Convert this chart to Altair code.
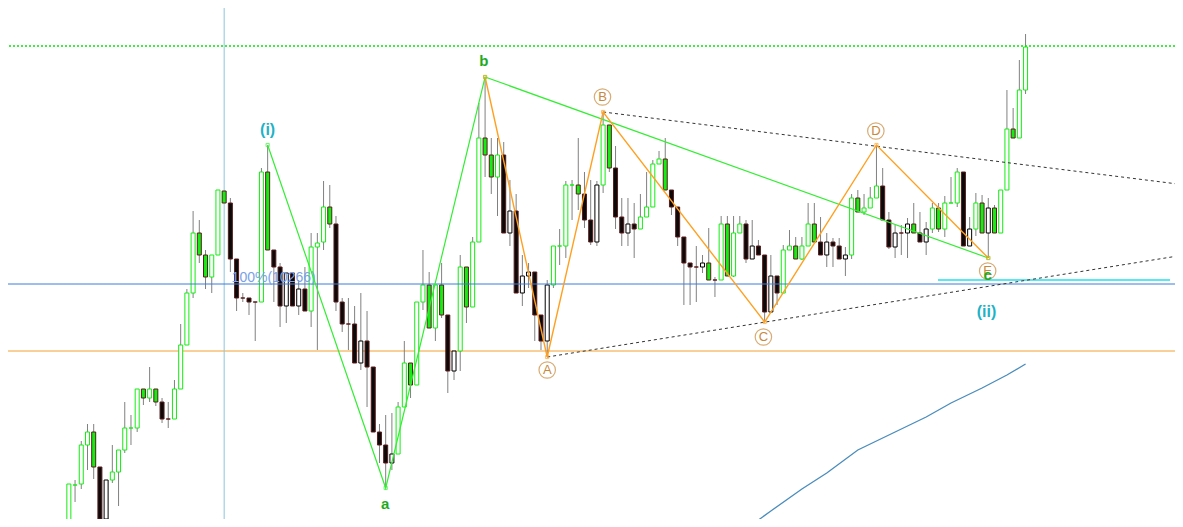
import altair as alt
import pandas as pd

# ---------------- candle data (price units) ----------------
opens = [10005,10065,10066,10105,10118,10083,10031,10070,10078,10100,
         10122,10122,10161,10152,10161,10148,10131,10131,10161,10205,
         10257,10317,10295,10273,10295,10359,10347,10291,10252,10252,
         10248,10248,10378,10300,10283,10244,10277,10244,10261,10239,
         10303,10308,10343,10326,10248,10226,10226,10187,10209,10183,
         10118,10105,10087,10096,10143,10187,10165,10248,10265,10222,
         10265,10235,10179,10199,10283,10243,10308,10412,10395,10373,
         10395,10317,10339,10257,10274,10278,10235,10209,10265,10304,
         10304,10365,10365,10356,10330,10308,10365,10425,10382,10333,
         10317,10326,10321,10333,10343,10386,10391,10360,10343,10313,
         10287,10283,10283,10287,10270,10270,10326,10274,10317,10326,
         10291,10304,10295,10238,10274,10257,10300,10304,10291,10304,
         10326,10308,10295,10308,10304,10291,10295,10352,10338,10342,
         10352,10364,10330,10303,10317,10317,10326,10317,10308,10321,
         10342,10321,10347,10347,10378,10304,10321,10347,10317,10342,
         10317,10360,10421,10412,10460]
closes = [10066,10065,10105,10118,10083,10031,10070,10078,10100,10122,
          10122,10161,10152,10161,10148,10131,10131,10161,10205,10257,
          10317,10295,10273,10295,10360,10347,10291,10252,10252,10248,
          10248,10378,10300,10283,10244,10277,10244,10261,10239,10303,
          10307,10343,10326,10248,10226,10226,10187,10209,10183,10118,
          10105,10087,10096,10143,10187,10165,10248,10265,10222,10265,
          10235,10179,10199,10283,10243,10308,10412,10395,10373,10395,
          10317,10339,10257,10274,10278,10235,10209,10265,10304,10304,
          10365,10365,10356,10330,10308,10365,10425,10382,10333,10317,
          10326,10321,10333,10343,10386,10391,10360,10343,10313,10287,
          10283,10283,10287,10270,10270,10326,10274,10317,10326,10291,
          10304,10295,10238,10274,10257,10300,10304,10291,10304,10326,
          10308,10295,10308,10304,10291,10295,10352,10338,10342,10352,
          10364,10330,10303,10317,10317,10326,10317,10308,10321,10342,
          10321,10347,10347,10378,10304,10321,10347,10317,10342,10317,
          10360,10421,10412,10460,10503]
highs = [10066,10070,10109,10126,10126,10083,10070,10105,10100,10148,
         10135,10161,10161,10183,10161,10152,10148,10170,10226,10261,
         10339,10330,10300,10295,10360,10359,10352,10291,10257,10252,
         10248,10382,10405,10300,10287,10277,10277,10270,10283,10317,
         10317,10369,10365,10334,10252,10252,10244,10257,10239,10183,
         10126,10135,10137,10148,10209,10187,10248,10300,10278,10265,
         10287,10235,10199,10295,10283,10313,10447,10473,10412,10412,
         10408,10370,10356,10295,10287,10278,10235,10270,10304,10321,
         10369,10370,10412,10378,10370,10369,10438,10425,10404,10352,
         10352,10347,10356,10378,10390,10399,10412,10360,10343,10313,
         10287,10304,10295,10322,10273,10334,10334,10334,10334,10330,
         10330,10310,10295,10295,10274,10305,10320,10313,10313,10347,
         10347,10333,10317,10312,10312,10303,10356,10360,10356,10363,
         10405,10382,10338,10325,10325,10332,10347,10338,10328,10347,
         10347,10354,10373,10382,10378,10333,10357,10355,10352,10345,
         10360,10460,10442,10490,10516]
lows = [10005,10048,10061,10080,10071,10031,10027,10067,10044,10097,
        10105,10118,10145,10148,10144,10127,10122,10131,10161,10205,
        10252,10287,10261,10257,10295,10347,10278,10239,10248,10235,
        10209,10248,10300,10248,10223,10227,10244,10235,10239,10223,
        10200,10300,10322,10239,10218,10200,10187,10180,10143,10118,
        10087,10062,10080,10096,10143,10152,10165,10240,10222,10209,
        10232,10157,10170,10179,10227,10243,10308,10373,10356,10334,
        10317,10304,10257,10244,10262,10209,10200,10193,10262,10285,
        10292,10330,10340,10322,10305,10304,10357,10378,10321,10304,
        10304,10292,10321,10333,10343,10386,10360,10335,10304,10245,
        10245,10248,10277,10270,10253,10270,10274,10273,10317,10287,
        10291,10295,10228,10238,10245,10257,10300,10291,10290,10304,
        10308,10295,10283,10283,10291,10274,10291,10338,10335,10342,
        10352,10330,10301,10292,10295,10292,10317,10308,10295,10317,
        10318,10313,10347,10343,10304,10304,10314,10317,10292,10317,
        10317,10360,10412,10412,10456]
styles = list("GGGGFBWGGG" "GGFGFBBGGG" "GFFGGFBBBB" "BGFBBWBWBG"
              "GGFBBBBWBB" "BBWGGFGGFG" "FBWGFGGFFG" "BWBWWBBWGG"
              "GGFBBWGFBB" "WBGGGGFBBB" "BBWFBGFGGB" "WBBWBGGFGG"
              "FBWBBWGFGG" "GBBWBWFBWG" "FGGGBWGFWF" "GGFGG")

# moving average (bottom-right curve)
ma_idx = [109, 113, 118, 122, 127, 133, 138, 142, 147, 151, 154]
ma_val = [10021, 10039, 10061, 10077, 10100, 10118, 10133, 10147, 10162, 10175, 10186]

# wave counts
green_idx = [32, 51, 67, 148]
green_val = [10405, 10062, 10473, 10292]
orange_idx = [67, 77, 86, 112, 130, 148]
orange_val = [10473, 10193, 10438, 10228, 10405, 10292]

# visible window
X_MIN, X_MAX = -8.99, 177.25
Y_MIN, Y_MAX = 10031, 10542

# trend lines (start point, right-edge point)
trend_name = ["upper", "upper", "lower", "lower"]
trend_idx = [86, 178.5, 77, 178.5]
trend_val = [10438, 10366, 10193, 10294]

# horizontal levels
level_green = 10504
level_blue = 10266
level_orange = 10199
level_cyan = 10270
cyan_start = 139.9
cross_idx = 25

# labels
circ_text = ["A", "B", "C", "D", "E"]
circ_idx = [77, 85.9, 111.8, 129.9, 147.9]
circ_val = [10180, 10453, 10213, 10419, 10279]
wave_text = ["a", "b", "c"]
wave_idx = [50.9, 66.8, 147.9]
wave_val = [10046, 10489, 10275]
deg_text = ["(i)", "(ii)"]
deg_idx = [32, 147.7]
deg_val = [10420, 10238]

# ---------------- build ----------------
n = len(opens)
candles = pd.DataFrame({"i": list(range(n)), "o": opens, "c": closes,
                        "h": highs, "l": lows, "s": styles})

xs = alt.Scale(domain=[X_MIN, X_MAX], nice=False, zero=False)
ys = alt.Scale(domain=[Y_MIN, Y_MAX], nice=False, zero=False)
X = lambda f: alt.X(f, type="quantitative", scale=xs, axis=None)
Y = lambda f: alt.Y(f, type="quantitative", scale=ys, axis=None)

wicks = alt.Chart(candles).mark_rule(color="#808080", strokeWidth=1, clip=True).encode(
    x=X("i"), y=Y("l"), y2="h")

sty_dom = ["G", "B", "F", "W"]
bodies = alt.Chart(candles).mark_bar(size=4, strokeWidth=1, clip=True).encode(
    x=X("i"), y=Y("o"), y2="c",
    fill=alt.Fill("s:N", scale=alt.Scale(domain=sty_dom,
                  range=["#ffffff", "#0a0a0a", "#11ee11", "#ffffff"]), legend=None),
    stroke=alt.Stroke("s:N", scale=alt.Scale(domain=sty_dom,
                  range=["#11ee11", "#5a1a1a", "#5a1a1a", "#000000"]), legend=None))

def hline(val, color, dash=None, w=1):
    kw = dict(color=color, strokeWidth=w)
    if dash:
        kw["strokeDash"] = dash
    return alt.Chart(pd.DataFrame({"v": [val]})).mark_rule(**kw).encode(y=Y("v"))

h_green = hline(level_green, "#00e600", [2, 2], 1.3)
h_blue = hline(level_blue, "#3c7ddc")
h_orange = hline(level_orange, "#f2a030")
h_cyan = alt.Chart(pd.DataFrame({"a": [cyan_start], "b": [X_MAX], "v": [level_cyan]})).mark_rule(
    color="#22e0ee", strokeWidth=1.5).encode(x=X("a"), x2="b", y=Y("v"))
v_cross = alt.Chart(pd.DataFrame({"x": [cross_idx]})).mark_rule(
    color="#8cc4e0", strokeWidth=1).encode(x=X("x"))

pct_label = alt.Chart(pd.DataFrame({"x": [26.2], "v": [10268], "t": ["100%(10266)"]})).mark_text(
    align="left", baseline="alphabetic", font="Liberation Sans", fontSize=14,
    color="#7aa2e8").encode(x=X("x"), y=Y("v"), text="t:N")

gdf = pd.DataFrame({"i": green_idx, "v": green_val})
g_line = alt.Chart(gdf).mark_line(color="#33ee33", strokeWidth=1.2).encode(x=X("i"), y=Y("v"))
g_pts = alt.Chart(gdf).mark_square(size=10, filled=False, color="#33ee33", strokeWidth=1).encode(
    x=X("i"), y=Y("v"))

odf = pd.DataFrame({"i": orange_idx, "v": orange_val})
o_line = alt.Chart(odf).mark_line(color="#ffa020", strokeWidth=1.4).encode(x=X("i"), y=Y("v"))
o_pts = alt.Chart(odf).mark_square(size=10, filled=False, color="#ffa020", strokeWidth=1).encode(
    x=X("i"), y=Y("v"))

tdf = pd.DataFrame({"n": trend_name, "i": trend_idx, "v": trend_val})
t_lines = alt.Chart(tdf).mark_line(color="#333333", strokeWidth=1, strokeDash=[3, 3], clip=True).encode(
    x=X("i"), y=Y("v"), detail="n:N")

ma = alt.Chart(pd.DataFrame({"i": ma_idx, "v": ma_val})).mark_line(
    color="#4a8cbc", strokeWidth=1.3, clip=True).encode(x=X("i"), y=Y("v"))

cdf = pd.DataFrame({"i": circ_idx, "v": circ_val, "t": circ_text})
circles = alt.Chart(cdf).mark_point(shape="circle", size=270, filled=False,
                                    color="#c8893a", strokeWidth=1.2).encode(x=X("i"), y=Y("v"))
circ_lbl = alt.Chart(cdf).mark_text(font="Liberation Sans", fontSize=13, color="#c8893a",
                                    baseline="middle", align="center").encode(
    x=X("i"), y=Y("v"), text="t:N")

wdf = pd.DataFrame({"i": wave_idx, "v": wave_val, "t": wave_text})
wave_lbl = alt.Chart(wdf).mark_text(font="Liberation Sans", fontSize=15, fontWeight="bold",
                                    color="#1eaa1e", baseline="middle", align="center").encode(
    x=X("i"), y=Y("v"), text="t:N")

ddf = pd.DataFrame({"i": deg_idx, "v": deg_val, "t": deg_text})
deg_lbl = alt.Chart(ddf).mark_text(font="Liberation Sans", fontSize=16, fontWeight="bold",
                                   color="#1fb2c6", baseline="middle", align="center").encode(
    x=X("i"), y=Y("v"), text="t:N")

chart = alt.layer(
    h_orange, v_cross, wicks, bodies, h_blue, h_green, h_cyan, pct_label,
    t_lines, ma, g_line, o_line, g_pts, o_pts, circles, circ_lbl, wave_lbl, deg_lbl
).properties(
    width=1167, height=511, padding=0,
    autosize=alt.AutoSizeParams(type="none"),
    background="#ffffff"
).configure_view(stroke=None)

chart.save("out.html", embed_options={"renderer": "svg", "actions": False})
